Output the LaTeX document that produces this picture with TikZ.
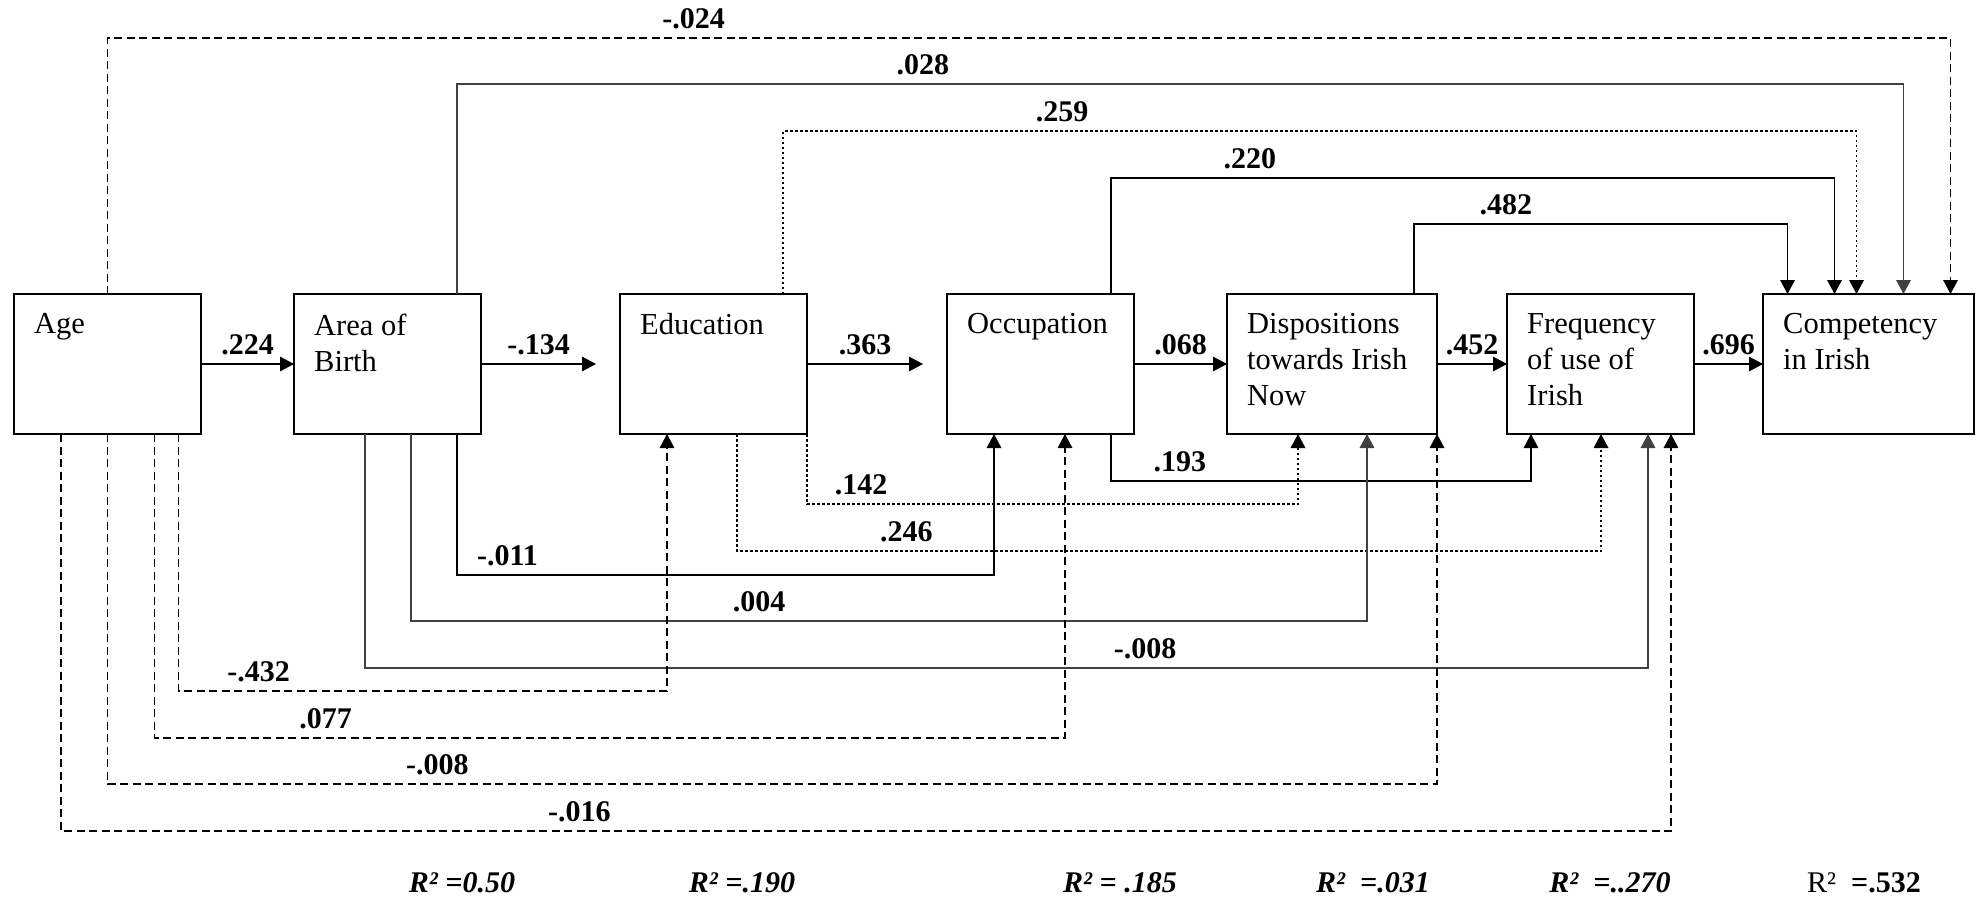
\documentclass[tikz,border=0pt]{standalone}
\usepackage{fontspec}
\setmainfont{Liberation Serif}
\usetikzlibrary{positioning,arrows.meta}
\definecolor{arrgrey}{RGB}{64,64,64}
\newcommand{\boxfont}{\fontsize{30.5}{36}\selectfont}
\newcommand{\coeffont}{\fontsize{30}{36}\selectfont\bfseries}

\begin{document}
\begin{tikzpicture}[
    x = 1pt, y = 1pt,
    varstyle/.style  = {draw,
                        line width=1.7pt,
                        minimum width=187pt,
                        minimum height=140pt,
                        inner sep=0pt,
                        outer sep=0pt},
    namestyle/.style = {anchor=north west,
                        align=left,
                        inner sep=0pt,
                        xshift=20pt,
                        yshift=-19.5pt,
                        font=\boxfont},
    coefstyle/.style = {above=5pt,
                        inner sep=3pt,
                        font=\coeffont},
    rsqstyle/.style  = {font=\fontsize{30}{36}\selectfont\bfseries\itshape},
    arr/.style       = {line width=1.5pt,
                        -{Triangle[length=14pt, width=14.5pt]}},
    dsh/.style       = {arr, dash pattern=on 8pt off 4.5pt},
    dotline/.style   = {arr, line width=1.9pt, dash pattern=on 2.5pt off 2.5pt},
    greyarr/.style   = {arr, line width=1.7pt, draw=arrgrey}
]
\useasboundingbox (0,0) rectangle (1978,-898);

\node (age) [varstyle, anchor=north west, label={[namestyle]north west:Age}] at (14,-294) {};
\node (area) [varstyle, right=93pt of age, label={[namestyle]north west:Area of\\Birth}] {};
\node (educ) [varstyle, right=139pt of area, label={[namestyle]north west:Education}] {};
\node (occ) [varstyle, right=140pt of educ, label={[namestyle]north west:Occupation}] {};
\node (disp) [varstyle, minimum width=210pt, right=93pt of occ,
    label={[namestyle]north west:Dispositions\\towards Irish\\Now}] {};
\node (freq) [varstyle, right=70pt of disp, label={[namestyle]north west:Frequency\\of use of\\Irish}] {};
\node (comp) [varstyle, minimum width=211pt, right=69pt of freq,
    label={[namestyle]north west:Competency\\in Irish}] {};

\draw[arr] (age) -- node[coefstyle]{.224} (area);
\draw[arr] (area) -- node[coefstyle]{-.134} ([xshift=-24pt]educ.west);
\draw[arr] (educ) -- node[coefstyle]{.363} ([xshift=-24pt]occ.west);
\draw[arr] (occ) -- node[coefstyle]{.068} (disp);
\draw[arr] (disp) -- node[coefstyle]{.452} (freq);
\draw[arr] (freq) -- node[coefstyle]{.696} (comp);

\draw[dsh] ([xshift=93.6pt]age.north west) -- ++(0,256)
    -| node[coefstyle, pos=0.159]{-.024} ([xshift=187.5pt]comp.north west);
\draw[greyarr] ([xshift=163pt]area.north west) -- ++(0,210)
    -| node[coefstyle, pos=0.161]{.028} ([xshift=140.5pt]comp.north west);
\draw[dotline] ([xshift=163pt]educ.north west) -- ++(0,163)
    -| node[coefstyle, pos=0.130]{.259} ([xshift=93.5pt]comp.north west);
\draw[arr] ([xshift=164pt]occ.north west) -- ++(0,116)
    -| node[coefstyle, pos=0.096]{.220} ([xshift=71.5pt]comp.north west);
\draw[arr] ([xshift=187pt]disp.north west) -- ++(0,70)
    -| node[coefstyle, pos=0.123]{.482} ([xshift=24.5pt]comp.north west);

\draw[arr] ([xshift=164pt]occ.south west) -- ++(0,-47)
    -| node[coefstyle, pos=0.082]{.193} ([xshift=24pt]freq.south west);
\draw[dotline] (educ.south east) -- ++(0,-70)
    -| node[coefstyle, pos=0.055]{.142} ([xshift=71pt]disp.south west);
\draw[dotline] ([xshift=117pt]educ.south west) -- ++(0,-117)
    -| node[coefstyle, pos=0.098]{.246} ([xshift=94pt]freq.south west);
\draw[arr] ([xshift=163pt]area.south west) -- ++(0,-141)
    -| node[coefstyle, pos=0.047]{-.011} ([xshift=47pt]occ.south west);
\draw[greyarr] ([xshift=117pt]area.south west) -- ++(0,-187)
    -| node[coefstyle, pos=0.182]{.004} ([xshift=140pt]disp.south west);
\draw[greyarr] ([xshift=71pt]area.south west) -- ++(0,-234)
    -| node[coefstyle, pos=0.304]{-.008} ([xshift=141pt]freq.south west);
\draw[dsh] ([xshift=164.6pt]age.south west) -- ++(0,-257)
    -| node[coefstyle, pos=0.082]{-.432} ([xshift=47pt]educ.south west);
\draw[dsh] ([xshift=140.5pt]age.south west) -- ++(0,-304)
    -| node[coefstyle, pos=0.094]{.077} ([xshift=118pt]occ.south west);
\draw[dsh] ([xshift=93.6pt]age.south west) -- ++(0,-350)
    -| node[coefstyle, pos=0.124]{-.008} (disp.south east);
\draw[dsh] ([xshift=47pt]age.south west) -- ++(0,-397)
    -| node[coefstyle, pos=0.161]{-.016} ([xshift=164pt]freq.south west);

\node (rsqarea) [rsqstyle] at (462,-883) {R² =0.50};
\node (rsqeduc) [rsqstyle] at (742,-883) {R² =.190};
\node (rsqocc) [rsqstyle] at (1120,-883) {R² = .185};
\node (rsqdisp) [rsqstyle] at (1373,-883) {R²~~=.031};
\node (rsqfreq) [rsqstyle] at (1610,-883) {R²~~=..270};
\node (rsqcomp) [font=\fontsize{30}{36}\selectfont] at (1864,-883) {R²~~\textbf{=.532}};

\end{tikzpicture}
\end{document}
